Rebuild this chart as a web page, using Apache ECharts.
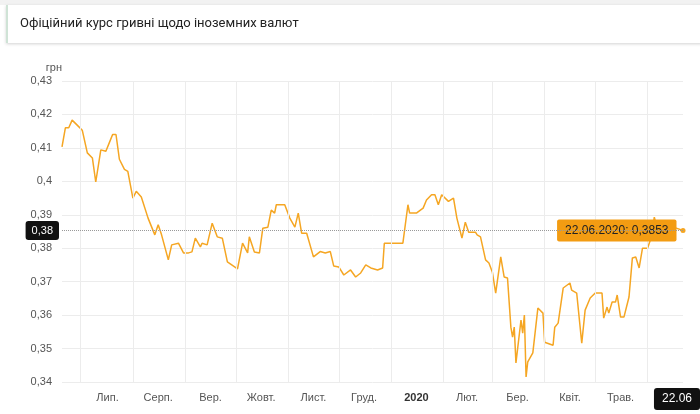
<!DOCTYPE html>
<html>
<head>
<meta charset="utf-8">
<script src="https://cdn.jsdelivr.net/npm/echarts@6/dist/echarts.min.js"></script>
<style>
  body { margin: 0; background: #fff; font-family: Roboto, "Noto Sans", sans-serif; }
  #top { position: absolute; left: 0; top: 0; width: 700px; height: 5px; background: #f2f2f2; }
  #head { position: absolute; left: 6px; top: 5px; width: 694px; height: 38px; background: #fff;
          border-left: 2px solid #cfe3d6; box-shadow: 0 1px 3px rgba(0,0,0,.18); z-index: 2; }
  #head span { position: absolute; left: 12px; top: 10px; font-size: 13px; color: #222; }
  #chart { position: absolute; left: 0; top: 0; width: 700px; height: 414px; }
</style>
</head>
<body>
<div id="top"></div>
<div id="head"><span>Офіційний курс гривні щодо іноземних валют</span></div>
<div id="chart"></div>
<script>
// курс, грн
var dates = ['2019-06-20','2019-06-22','2019-06-24','2019-06-26','2019-06-29','2019-07-02','2019-07-05','2019-07-08','2019-07-10','2019-07-13',
  '2019-07-16','2019-07-18','2019-07-20','2019-07-22','2019-07-24','2019-07-27','2019-07-29','2019-08-01','2019-08-03','2019-08-06',
  '2019-08-10','2019-08-14','2019-08-16','2019-08-18','2019-08-22','2019-08-24','2019-08-28','2019-08-31','2019-09-03','2019-09-05',
  '2019-09-07','2019-09-10','2019-09-11','2019-09-14','2019-09-17','2019-09-20','2019-09-23','2019-09-26','2019-10-02','2019-10-05',
  '2019-10-08','2019-10-09','2019-10-12','2019-10-15','2019-10-17','2019-10-20','2019-10-22','2019-10-24','2019-10-25','2019-10-30',
  '2019-11-02','2019-11-05','2019-11-07','2019-11-09','2019-11-12','2019-11-16','2019-11-20','2019-11-23','2019-11-26','2019-11-28',
  '2019-12-01','2019-12-04','2019-12-08','2019-12-11','2019-12-14','2019-12-17','2019-12-20','2019-12-24','2019-12-27','2019-12-28',
  '2020-01-08','2020-01-11','2020-01-12','2020-01-16','2020-01-17','2020-01-20','2020-01-22','2020-01-25','2020-01-27','2020-01-29',
  '2020-01-31','2020-02-04','2020-02-07','2020-02-09','2020-02-12','2020-02-14','2020-02-16','2020-02-20','2020-02-21','2020-02-23',
  '2020-02-24','2020-02-26','2020-02-28','2020-03-01','2020-03-03','2020-03-06','2020-03-08','2020-03-10','2020-03-12','2020-03-13',
  '2020-03-14','2020-03-15','2020-03-16','2020-03-18','2020-03-19','2020-03-20','2020-03-21','2020-03-22','2020-03-25','2020-03-28',
  '2020-03-31','2020-04-01','2020-04-06','2020-04-07','2020-04-09','2020-04-12','2020-04-13','2020-04-16','2020-04-17','2020-04-20',
  '2020-04-23','2020-04-25','2020-04-28','2020-05-01','2020-05-05','2020-05-06','2020-05-08','2020-05-09','2020-05-11','2020-05-13',
  '2020-05-14','2020-05-16','2020-05-18','2020-05-21','2020-05-23','2020-05-25','2020-05-27','2020-05-29','2020-06-01','2020-06-03',
  '2020-06-05','2020-06-07','2020-06-12','2020-06-18','2020-06-22'];
var rates = [0.4103,0.416,0.416,0.4183,0.4168,0.4153,0.4085,0.407,0.3998,0.4094,
  0.409,0.4115,0.414,0.414,0.4066,0.4036,0.403,0.395,0.397,0.3953,
  0.389,0.384,0.387,0.384,0.3765,0.381,0.3815,0.3786,0.3786,0.3789,
  0.383,0.3804,0.3815,0.381,0.3875,0.3834,0.383,0.3759,0.3738,0.3815,
  0.3786,0.3834,0.3789,0.3786,0.386,0.3863,0.3914,0.3905,0.393,0.393,
  0.389,0.3863,0.3905,0.3845,0.3845,0.3774,0.379,0.3786,0.379,0.3747,
  0.3744,0.372,0.3735,0.3714,0.3726,0.375,0.3741,0.3735,0.3741,0.3815,
  0.3815,0.393,0.3905,0.3905,0.39,0.392,0.3944,0.396,0.396,0.393,
  0.396,0.394,0.395,0.389,0.383,0.3878,0.3848,0.3848,0.384,0.3834,
  0.3834,0.3765,0.3756,0.3729,0.3666,0.3774,0.3714,0.3711,0.3564,0.3534,
  0.3564,0.3457,0.3457,0.3585,0.3546,0.36,0.3415,0.346,0.3487,0.3621,
  0.3606,0.3519,0.351,0.3564,0.3576,0.3681,0.3684,0.3696,0.3675,0.3666,
  0.3516,0.3615,0.3651,0.3666,0.3666,0.3591,0.3624,0.3606,0.3639,0.3639,
  0.366,0.3594,0.3594,0.3654,0.3771,0.3774,0.3741,0.38,0.38,0.383,
  0.3893,0.3854,0.387,0.386,0.3853];
var monthStarts = ['2019-07-01','2019-08-01','2019-09-01','2019-10-01','2019-11-01','2019-12-01',
  '2020-01-01','2020-02-01','2020-03-01','2020-04-01','2020-05-01','2020-06-01'];
var monthMids = ['2019-07-17','2019-08-16','2019-09-16','2019-10-16','2019-11-16','2019-12-16',
  '2020-01-16','2020-02-15','2020-03-16','2020-04-16','2020-05-16'];
var monthNames = ['Лип.','Серп.','Вер.','Жовт.','Лист.','Груд.','2020','Лют.','Бер.','Квіт.','Трав.'];
var lastDate = '2020-06-22', lastRate = 0.3853;

var myChart = echarts.init(document.getElementById('chart'));
var ts = function (s) { return Date.UTC(+s.slice(0, 4), +s.slice(5, 7) - 1, +s.slice(8, 10)); };
var midTs = monthMids.map(ts);

var option = {
    animation: false,
    grid: { left: 62, right: 17, top: 81, bottom: 32 },
    axisPointer: { triggerOn: 'none' },
    xAxis: {
        type: 'value',
        min: ts('2019-06-20'), max: ts(lastDate),
        axisLine: { show: false },
        axisTick: { show: false, customValues: midTs },
        splitLine: { show: false },
        axisLabel: {
            customValues: midTs,
            color: '#555', fontSize: 11, margin: 10,
            formatter: function (v) {
                var i = midTs.indexOf(v);
                return i === 6 ? '{b|2020}' : (monthNames[i] || '');
            },
            rich: { b: { fontWeight: 'bold', color: '#333', fontSize: 11 } }
        },
        axisPointer: {
            show: true, status: 'show', value: ts(lastDate),
            lineStyle: { opacity: 0 },
            label: { formatter: '22.06', backgroundColor: '#111', color: '#fff', fontSize: 12, padding: [5, 8], margin: 6 }
        }
    },
    yAxis: {
        type: 'value', min: 0.34, max: 0.43, interval: 0.01,
        name: 'грн', nameGap: 8, nameTextStyle: { color: '#555', fontSize: 11, align: 'right' },
        axisLine: { show: false }, axisTick: { show: false },
        splitLine: { lineStyle: { color: '#ececec' } },
        axisLabel: {
            color: '#555', fontSize: 11, margin: 10,
            formatter: function (v) { return String(+v.toFixed(2)).replace('.', ','); }
        },
        axisPointer: {
            show: true, status: 'show', value: lastRate,
            lineStyle: { color: '#999', type: 'dotted', width: 1 },
            label: { formatter: '0,38', backgroundColor: '#111', color: '#fff', fontSize: 11, padding: [4, 6] }
        }
    },
    series: [{
        type: 'line',
        data: dates.map(function (d, i) { return [ts(d), rates[i]]; }),
        showSymbol: false,
        lineStyle: { color: '#f5a623', width: 1.5 },
        itemStyle: { color: '#f5a623' },
        markLine: {
            silent: true, symbol: 'none', label: { show: false },
            lineStyle: { color: '#ececec', type: 'solid', width: 1 },
            data: monthStarts.map(function (m) { return { xAxis: ts(m) }; })
        },
        markPoint: {
            symbol: 'circle', symbolSize: 5,
            itemStyle: { color: '#f5a623' },
            data: [{ coord: [ts(lastDate), lastRate] }],
            label: {
                show: true, position: 'left', distance: 4,
                formatter: '22.06.2020: 0,3853',
                backgroundColor: '#f39c12', color: '#222', fontSize: 12, padding: [5, 8], borderRadius: 2
            }
        }
    }]
};
myChart.setOption(option);
</script>
</body>
</html>
